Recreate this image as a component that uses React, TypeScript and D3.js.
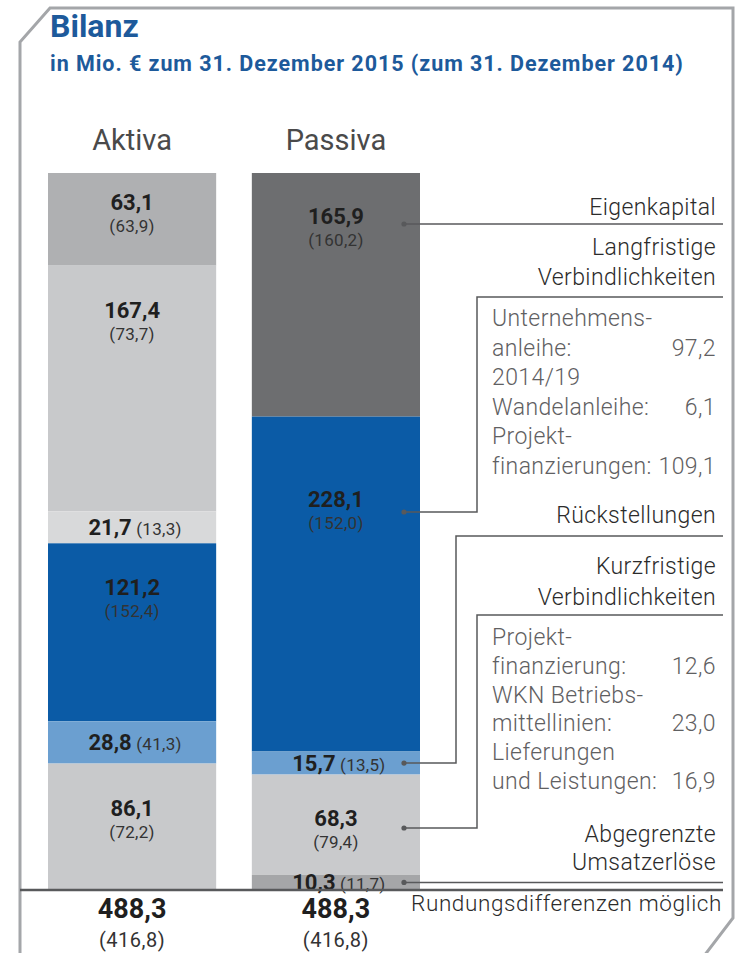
import React from "react";
import * as d3 from "d3";

// ---------- data ----------
const sides = ["Aktiva", "Passiva"];
const aktiva2015 = [63.1, 167.4, 21.7, 121.2, 28.8, 86.1];
const aktiva2014 = [63.9, 73.7, 13.3, 152.4, 41.3, 72.2];
const passiva2015 = [165.9, 228.1, 15.7, 68.3, 10.3];
const passiva2014 = [160.2, 152.0, 13.5, 79.4, 11.7];
const totals2015 = [488.3, 488.3];
const totals2014 = [416.8, 416.8];

const passivaHeads = [
  ["Eigenkapital"],
  ["Langfristige", "Verbindlichkeiten"],
  ["Rückstellungen"],
  ["Kurzfristige", "Verbindlichkeiten"],
  ["Abgegrenzte", "Umsatzerlöse"],
];
const longTermLabels = [
  ["Unternehmens-", "anleihe:"],
  ["2014/19", "Wandelanleihe:"],
  ["Projekt-", "finanzierungen:"],
];
const longTermValues = [97.2, 6.1, 109.1];
const shortTermLabels = [
  ["Projekt-", "finanzierung:"],
  ["WKN Betriebs-", "mittellinien:"],
  ["Lieferungen", "und Leistungen:"],
];
const shortTermValues = [12.6, 23.0, 16.9];

const title = "Bilanz";
const subtitle = "in Mio. € zum 31. Dezember 2015 (zum 31. Dezember 2014)";
const footnote = "Rundungsdifferenzen möglich";

// ---------- styles ----------
const aktivaColors = ["#afb0b2", "#c8c9cb", "#d8d9da", "#0b5ba6", "#6b9fd0", "#c8c9cb"];
const passivaColors = ["#6d6e70", "#0b5ba6", "#6b9fd0", "#c9cacc", "#a5a6a8"];
const FONT = "Roboto, 'DejaVu Sans', sans-serif";
const LINE = "#58595b";

const fmt = (v: number) => d3.format(".1f")(v).replace(".", ",");

export default function App() {
  const W = 738;
  const H = 953;
  const top = 173;
  const base = 890;
  const total = d3.sum(aktiva2015);

  const y = d3.scaleLinear().domain([0, total]).range([top, base]);
  const x = d3.scaleBand<string>().domain(sides).range([48, 420]).paddingInner(0.175);
  const bw = x.bandwidth();

  const stack = (vals: number[]) => {
    let acc = 0;
    return vals.map((v) => {
      const s = { y0: y(acc), y1: y(acc + v) };
      acc += v;
      return s;
    });
  };
  const aSeg = stack(aktiva2015);
  const pSeg = stack(passiva2015);

  const ax = x("Aktiva")!;
  const px = x("Passiva")!;
  const pRight = px + bw;
  const dotX = pRight - 16;
  const textRight = 716;
  const ruleRight = 723;
  const boxLeft = 477;
  const itemLeft = 492;

  // annotation layout
  const eigY = 224;
  const langBoxTop = 297;
  const langLeaderY = 512;
  const rueckRuleY = 536;
  const rueckBendX = 456;
  const kurzBoxTop = 615;
  const kurzLeaderY = 828;

  const mid = (s: { y0: number; y1: number }) => (s.y0 + s.y1) / 2;

  const aCenters = aSeg.map((s) => Math.min(mid(s) - 4, s.y0 + 57));
  const pLeaderYs = [eigY, langLeaderY, mid(pSeg[2]), kurzLeaderY, mid(pSeg[4])];
  const pCenters = pSeg.map((s, i) => Math.max(pLeaderYs[i], s.y0 + 56));

  const renderLabel = (
    cx: number,
    s: { y0: number; y1: number },
    c: number,
    v: number,
    v0: number,
    key: string
  ) => {
    const h = s.y1 - s.y0;
    if (h < 50) {
      return (
        <text key={key} x={cx + 3} y={mid(s) + 7.5} textAnchor="middle" fontFamily={FONT}>
          <tspan fontWeight="bold" fontSize={22} fill="#1f1f1f">{fmt(v)}</tspan>
          <tspan fontSize={17} fill="#333" letterSpacing={0.3}>{" (" + fmt(v0) + ")"}</tspan>
        </text>
      );
    }
    return (
      <g key={key}>
        <text x={cx} y={c - 5} textAnchor="middle" fontFamily={FONT} fontWeight="bold" fontSize={22} fill="#1f1f1f">
          {fmt(v)}
        </text>
        <text x={cx} y={c + 17} textAnchor="middle" fontFamily={FONT} fontSize={17} fill="#333" letterSpacing={0.3}>
          {"(" + fmt(v0) + ")"}
        </text>
      </g>
    );
  };

  const headText = (lines: string[], y0: number, step: number, key: string) =>
    lines.map((l, i) => (
      <text
        key={key + i}
        x={textRight}
        y={y0 + i * step}
        textAnchor="end"
        fontFamily={FONT}
        fontWeight={300}
        fontSize={23}
        fill="#2b2b2b"
        letterSpacing={0.4}
      >
        {l}
      </text>
    ));

  const items = (labels: string[][], values: number[], y0: number, step: number, key: string) =>
    labels.map((ls, i) => (
      <g key={key + i}>
        {ls.map((l, j) => (
          <text
            key={j}
            x={itemLeft}
            y={y0 + (i * 2 + j) * step}
            fontFamily={FONT}
            fontWeight={300}
            fontSize={23}
            fill="#5f6062"
            letterSpacing={0.4}
          >
            {l}
          </text>
        ))}
        <text
          x={textRight}
          y={y0 + (i * 2 + 1) * step}
          textAnchor="end"
          fontFamily={FONT}
          fontWeight={300}
          fontSize={23}
          fill="#5f6062"
          letterSpacing={0.4}
        >
          {fmt(values[i])}
        </text>
      </g>
    ));

  const dot = (cy: number, key: string) => <circle key={key} cx={dotX} cy={cy} r={2.6} fill={LINE} />;

  return (
    <svg width={W} height={H} style={{ position: "absolute", left: 0, top: 0, background: "#fff" }}>
      {/* frame */}
      <path
        d="M704,956 L733,918 L733,8 L50,8 L20,42 L20,956"
        fill="none"
        stroke="#a4a6a9"
        strokeWidth={3}
      />
      <text x={50} y={37} fontFamily={FONT} fontWeight="bold" fontSize={32} fill="#1d5a9b">
        {title}
      </text>
      <text x={50} y={71} fontFamily={FONT} fontWeight="bold" fontSize={21.5} fill="#1d5a9b" letterSpacing={0.95}>
        {subtitle}
      </text>

      {/* headings */}
      {sides.map((s) => (
        <text
          key={s}
          x={x(s)! + bw / 2}
          y={150}
          textAnchor="middle"
          fontFamily={FONT}
          fontSize={29}
          fill="#4a4a4a"
        >
          {s}
        </text>
      ))}

      {/* bars */}
      {aSeg.map((s, i) => (
        <rect key={"a" + i} x={ax} y={s.y0} width={bw} height={s.y1 - s.y0} fill={aktivaColors[i]} />
      ))}
      {pSeg.map((s, i) => (
        <rect key={"p" + i} x={px} y={s.y0} width={bw} height={s.y1 - s.y0} fill={passivaColors[i]} />
      ))}

      {/* bar labels */}
      {aSeg.map((s, i) => renderLabel(ax + bw / 2, s, aCenters[i], aktiva2015[i], aktiva2014[i], "al" + i))}
      {pSeg.map((s, i) => renderLabel(px + bw / 2, s, pCenters[i], passiva2015[i], passiva2014[i], "pl" + i))}

      {/* leader lines */}
      <g stroke={LINE} strokeWidth={1.5} fill="none">
        <line x1={dotX} y1={eigY} x2={ruleRight} y2={eigY} />
        <polyline points={`${ruleRight},${langBoxTop} ${boxLeft},${langBoxTop} ${boxLeft},${langLeaderY} ${dotX},${langLeaderY}`} />
        <polyline
          points={`${ruleRight},${rueckRuleY} ${rueckBendX},${rueckRuleY} ${rueckBendX},${mid(pSeg[2])} ${dotX},${mid(pSeg[2])}`}
        />
        <polyline points={`${ruleRight},${kurzBoxTop} ${boxLeft},${kurzBoxTop} ${boxLeft},${kurzLeaderY} ${dotX},${kurzLeaderY}`} />
        <line x1={dotX} y1={mid(pSeg[4])} x2={ruleRight} y2={mid(pSeg[4])} />
      </g>
      {pLeaderYs.map((cy, i) => dot(cy, "d" + i))}

      {/* right side texts */}
      {headText(passivaHeads[0], 215, 30, "h0")}
      {headText(passivaHeads[1], 255, 30, "h1")}
      {items(longTermLabels, longTermValues, 326, 29.6, "lt")}
      {headText(passivaHeads[2], 523, 30, "h2")}
      {headText(passivaHeads[3], 574, 31, "h3")}
      {items(shortTermLabels, shortTermValues, 645, 28.8, "st")}
      {headText(passivaHeads[4], 842, 28, "h4")}

      {/* base line */}
      <line x1={20} y1={base} x2={ruleRight} y2={base} stroke={LINE} strokeWidth={2.5} />

      {/* totals */}
      {sides.map((s, i) => (
        <g key={"t" + s}>
          <text
            x={x(s)! + bw / 2}
            y={918}
            textAnchor="middle"
            fontFamily={FONT}
            fontWeight="bold"
            fontSize={27}
            fill="#1f1f1f"
          >
            {fmt(totals2015[i])}
          </text>
          <text
            x={x(s)! + bw / 2}
            y={947}
            textAnchor="middle"
            fontFamily={FONT}
            fontSize={20}
            fill="#333"
            letterSpacing={0.5}
          >
            {"(" + fmt(totals2014[i]) + ")"}
          </text>
        </g>
      ))}
      <text
        x={722}
        y={911}
        textAnchor="end"
        fontFamily={FONT}
        fontWeight={300}
        fontSize={22.5}
        fill="#2b2b2b"
        letterSpacing={0.6}
      >
        {footnote}
      </text>
    </svg>
  );
}
